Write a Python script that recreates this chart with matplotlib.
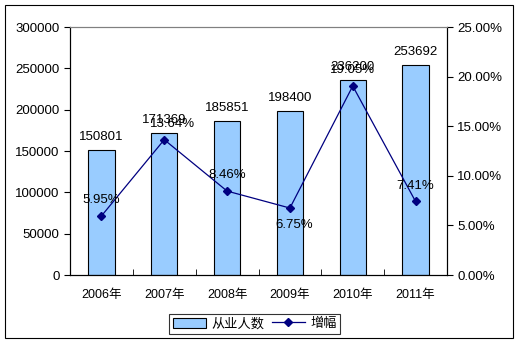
import matplotlib
matplotlib.use("Agg")
import matplotlib.pyplot as plt
from matplotlib.patches import Rectangle
from matplotlib.ticker import FuncFormatter, FixedLocator

plt.rcParams['font.family'] = ['Liberation Sans', 'Noto Sans CJK SC', 'DejaVu Sans']
plt.rcParams['font.size'] = 9

years = ["2006年", "2007年", "2008年", "2009年", "2010年", "2011年"]
people = [150801, 171369, 185851, 198400, 236200, 253692]
growth = [5.95, 13.64, 8.46, 6.75, 19.05, 7.41]
growth_below = [False, False, False, True, False, False]

fig = plt.figure(figsize=(5.21, 3.45), dpi=100)
ax = fig.add_axes([70/521, 1 - 275/345, (447 - 70)/521, (275 - 27)/345])
ax2 = ax.twinx()

x = list(range(len(years)))
ax.bar(x, people, width=0.42, color="#99CCFF", edgecolor="black", linewidth=0.8,
       label="从业人数", zorder=2)
for xi, v in zip(x, people):
    ax.annotate(str(v), (xi, v), xytext=(0, 5), textcoords="offset points",
                ha="center", va="bottom", fontsize=9.5)

ax.set_xlim(-0.5, len(years) - 0.5)
ax.set_ylim(0, 300000)
ax.set_yticks(range(0, 300001, 50000))
ax.set_xticks(x)
ax.set_xticklabels(years)
ax.tick_params(axis="x", length=0, pad=10)
ax.xaxis.set_minor_locator(FixedLocator([i + 0.5 for i in x[:-1]]))
ax.tick_params(axis="x", which="minor", direction="in", length=4)
ax.tick_params(axis="y", direction="out", length=4, labelsize=9.5)
ax.spines["top"].set_color("gray")

ax2.plot(x, growth, color="#000080", linewidth=0.9, marker="D", markersize=4,
         label="增幅", zorder=3)
for i, (xi, g, below) in enumerate(zip(x, growth, growth_below)):
    if below:
        ax2.annotate(f"{g:.2f}%", (xi, g), xytext=(3, -8), textcoords="offset points",
                     ha="center", va="top", fontsize=9.5)
    else:
        dx = 6 if i == 1 else 0
        ax2.annotate(f"{g:.2f}%", (xi, g), xytext=(dx, 7), textcoords="offset points",
                     ha="center", va="bottom", fontsize=9.5)
ax2.set_ylim(0, 25)
ax2.set_yticks(range(0, 26, 5))
ax2.yaxis.set_major_formatter(FuncFormatter(lambda v, p: f"{v:.2f}%"))
ax2.tick_params(axis="y", direction="out", length=4, labelsize=9.5)
ax2.spines["top"].set_color("gray")

h1, l1 = ax.get_legend_handles_labels()
h2, l2 = ax2.get_legend_handles_labels()
leg = fig.legend(h1 + h2, l1 + l2, loc="center", bbox_to_anchor=(0.489, 0.061), ncol=2,
                 frameon=True, fancybox=False, edgecolor="black", fontsize=9.5,
                 handlelength=2.5, handleheight=0.8, columnspacing=0.6, handletextpad=0.4,
                 borderpad=0.25)
leg.get_frame().set_linewidth(0.8)

fig.patches.append(Rectangle((5/521, 1 - 338/345), (513 - 5)/521, (338 - 5)/345,
                             transform=fig.transFigure, fill=False, edgecolor="black",
                             linewidth=0.8))

fig.savefig("out.png", dpi=100)
